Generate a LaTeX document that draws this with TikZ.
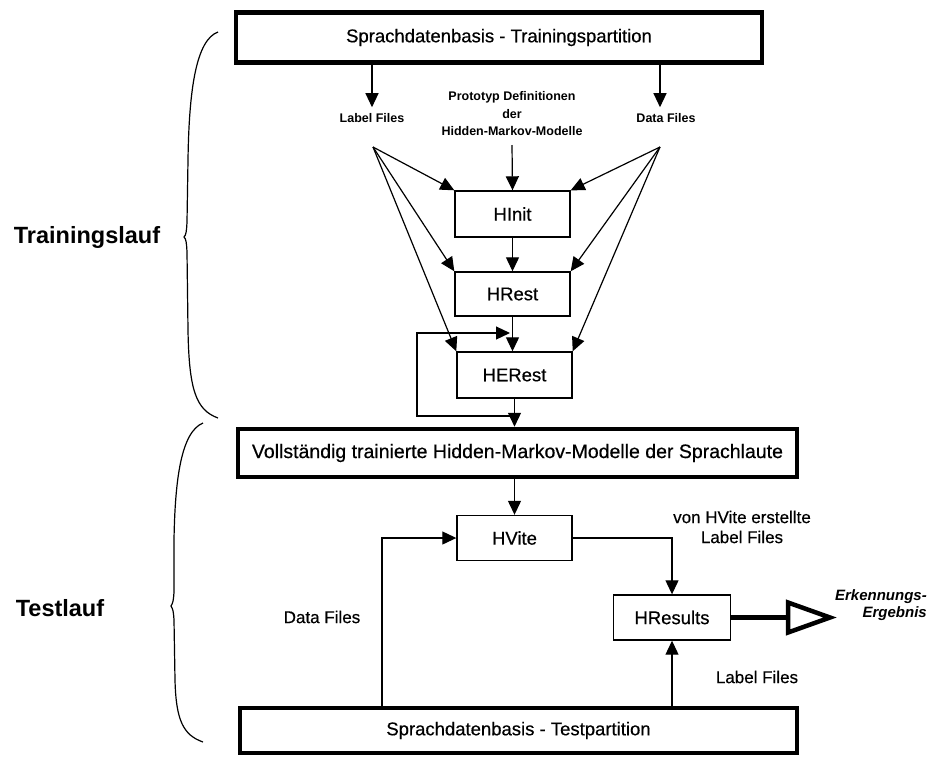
\documentclass[tikz,border=0pt]{standalone}
\usepackage{fontspec}
\setmainfont{Liberation Sans}
\newfontfamily\medfont[FakeBold=0.5]{Liberation Sans}
\usetikzlibrary{arrows.meta,calc}
\tikzset{
  arr/.style={draw, line width=1.2pt, -{Triangle[length=14pt,width=13pt]}},
  proc/.style={draw, line width=1.4pt, minimum width=115pt, minimum height=45pt, inner sep=0pt, font=\medfont\fontsize{18.5}{22}\selectfont},
  base/.style={draw, line width=4.5pt, inner sep=0pt, font=\medfont\fontsize{18.5}{22}\selectfont},
  small/.style={inner sep=1pt, font=\bfseries\fontsize{12.5}{15}\selectfont, align=center},
  side/.style={inner sep=1pt, font=\medfont\fontsize{17}{20}\selectfont, align=center},
  phase/.style={inner sep=1pt, font=\bfseries\fontsize{23.5}{27}\selectfont},
  brace/.style={draw, line width=1.2pt}
}
\begin{document}
\begin{tikzpicture}[x=1pt,y=-1pt]
\useasboundingbox (0,0) rectangle (950,756);
% boxes
\node[base, minimum width=526pt, minimum height=50pt] (train) at (499,37.5) {Sprachdatenbasis - Trainingspartition};
\node[small] (lblA) at (372,118) {Label Files};
\node[small] (dataA) at (666,118) {Data Files};
\node[small, font=\bfseries\fontsize{12.5}{17.5}\selectfont] (proto) at (512,114) {Prototyp Definitionen\\der\\Hidden-Markov-Modelle};
\coordinate (fanL) at (373,147);
\coordinate (fanR) at (660,147);
\coordinate (protoB) at (512,145);
\node[proc, minimum height=46pt] (hinit) at (512.5,214) {HInit};
\node[proc, minimum height=44pt] (hrest) at (512.5,294) {HRest};
\node[proc, minimum height=46pt] (herest) at (514.5,375) {HERest};
\node[base, minimum width=559pt, minimum height=48pt, font=\medfont\fontsize{19.5}{22}\selectfont] (voll) at (517.5,453) {Vollständig trainierte Hidden-Markov-Modelle der Sprachlaute};
\node[proc] (hvite) at (514.5,538) {HVite};
\node[proc, minimum width=117pt] (hres) at (672,617.5) {HResults};
\node[base, minimum width=557pt, minimum height=45pt] (test) at (518.5,730.5) {Sprachdatenbasis - Testpartition};
% top arrows
\draw[arr, shorten >=5pt] (train.south -| lblA) -- (lblA.north);
\draw[arr, shorten >=5pt] (train.south -| fanR) -- (dataA.north -| fanR);
\draw[arr] (protoB) -- (hinit.north);
\foreach \t in {hinit,hrest,herest}{
  \draw[arr] (fanL) -- (\t.north west);
  \draw[arr] (fanR) -- (\t.north east);
}
\draw[arr] (hinit.south) -- (hrest.north);
\draw[arr] (hrest.south) -- (hrest.south |- herest.north);
% loop
\coordinate (loopA) at (514.5,416);
\coordinate (loopB) at (417,333);
\coordinate (loopE) at (510,333);
\draw[arr] (loopA) -| (loopB) -- (loopE);
\draw[arr] (herest.south) -- (herest.south |- voll.north);
\draw[arr] (voll.south -| hvite) -- (hvite.north);
% test part
\coordinate (dfX) at (382,0);
\draw[arr] (test.north -| dfX) |- (hvite.west);
\draw[arr] (hvite.east) -| (hres.north);
\draw[arr] (test.north -| hres) -- (hres.south);
\node[side] (dfl) at (322,617) {Data Files};
\node[side] (vhl) at (742,527) {von HVite erstellte\\Label Files};
\node[side] (lfl) at (757,677) {Label Files};
% output
\coordinate (triB) at (788,617.5);
\coordinate (triT) at (830,617.5);
\draw[line width=5.5pt] (hres.east) -- (triB);
\draw[line width=4.5pt, fill=white, line join=miter] ($(triB)+(0,-15)$) -- (triT) -- ($(triB)+(0,15)$) -- cycle;
\node[inner sep=0pt, font=\bfseries\itshape\fontsize{15}{17}\selectfont, align=right, anchor=east] (out) at (927,605) {Erkennungs-\\Ergebnis};
% braces
\draw[brace] (218,32) .. controls (196,40) and (189,90) .. (188,160) -- (187,222) .. controls (186.5,232) and (186,235) .. (184,237) .. controls (186,239) and (186.5,242) .. (187,252) -- (188,330) .. controls (189,390) and (196,410) .. (218,418);
\draw[brace] (203,423) .. controls (181,432) and (175,480) .. (174,540) -- (174,592) .. controls (173.5,600) and (173,603) .. (171,606) .. controls (173,609) and (173.5,612) .. (174,620) -- (175,680) .. controls (176,720) and (183,735) .. (203,742);
\node[phase] (tl) at (87,237) {Trainingslauf};
\node[phase] (te) at (60,608) {Testlauf};
\end{tikzpicture}
\end{document}
